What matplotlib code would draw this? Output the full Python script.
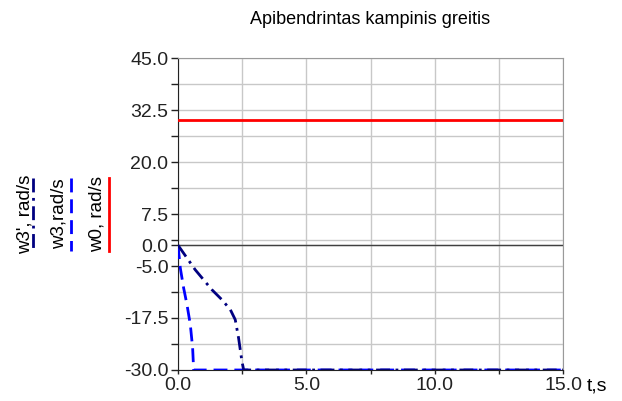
import numpy as np
import matplotlib.pyplot as plt
from matplotlib.lines import Line2D

plt.rcParams['font.family'] = ['Liberation Sans', 'DejaVu Sans']

# time, s
t_w0 = [0.0, 15.0]
w0 = [30.0, 30.0]

t_w3 = [0.0, 0.09, 0.22, 0.35, 0.48, 0.57, 0.61, 15.0]
w3 = [0.0, -5.5, -10.3, -14.3, -19.1, -24.7, -30.0, -30.0]

t_w3p = [0.0, 0.67, 1.32, 1.71, 2.04, 2.23, 2.36, 2.49, 2.56, 15.0]
w3p = [0.0, -5.9, -10.7, -13.1, -15.5, -17.9, -22.3, -27.9, -30.0, -30.0]

yticks_major = [45.0, 32.5, 20.0, 7.5, 0.0, -5.0, -17.5, -30.0]
yticks_minor = [38.75, 26.25, 13.75, 1.25, -11.25, -23.75]
xticks_major = [0.0, 5.0, 10.0, 15.0]
xticks_minor = [2.5, 7.5, 12.5]

fig = plt.figure(figsize=(6.22, 4.01), dpi=100)
ax = fig.add_axes([178 / 622, 1 - 370 / 401, (563 - 178) / 622, (370 - 58) / 401])

ax.set_xlim(0, 15)
ax.set_ylim(-30, 45)

ax.set_yticks(yticks_major)
ax.set_yticks(yticks_minor, minor=True)
ax.set_yticklabels(['%.1f' % v for v in yticks_major])
ax.set_xticks(xticks_major)
ax.set_xticks(xticks_minor, minor=True)
ax.set_xticklabels(['%.1f' % v for v in xticks_major])

ax.grid(True, which='both', color='#c8c8c8', linewidth=1.0)
ax.set_axisbelow(True)
ax.axhline(0, color='#404040', linewidth=1.0, zorder=1)

ax.tick_params(axis='both', which='both', labelsize=14, colors='#222222', direction='out', pad=2)
ax.tick_params(axis='y', which='both', length=5, width=1)
ax.tick_params(axis='x', which='both', length=3, width=1)

for side in ['top', 'right']:
    ax.spines[side].set_color('#9a9a9a')
for side in ['left', 'bottom']:
    ax.spines[side].set_color('#222222')

ax.plot(t_w0, w0, color='#ff0000', linewidth=2, zorder=3)
ax.plot(t_w3, w3, color='#0000ff', linewidth=2, linestyle=(0, (5, 2.5)), zorder=3)
ax.plot(t_w3p, w3p, color='#000080', linewidth=2, linestyle=(0, (5, 2, 1, 2)), zorder=4)

fig.text(370 / 622, 1 - 19 / 401, 'Apibendrintas kampinis greitis', ha='center', va='center', fontsize=13)
fig.text(587 / 622, 1 - 386 / 401, 't,s', ha='left', va='center', fontsize=14)

# legend drawn as rotated labels with vertical line samples
legend_items = [
    ("w3', rad/s", 25, 33, '#000080', (0, (5, 2, 1, 2))),
    ('w3,rad/s', 59, 71, '#0000ff', (0, (5, 2.5))),
    ('w0, rad/s', 97, 109, '#ff0000', '-'),
]
for label, tx, lx, color, ls in legend_items:
    fig.text(tx / 622, 1 - 214 / 401, label, rotation=90, ha='center', va='center', fontsize=13.5)
    fig.add_artist(Line2D([lx / 622, lx / 622], [1 - 178 / 401, 1 - 251 / 401],
                          color=color, linewidth=2, linestyle=ls, transform=fig.transFigure))

fig.savefig('out.png', dpi=100)
